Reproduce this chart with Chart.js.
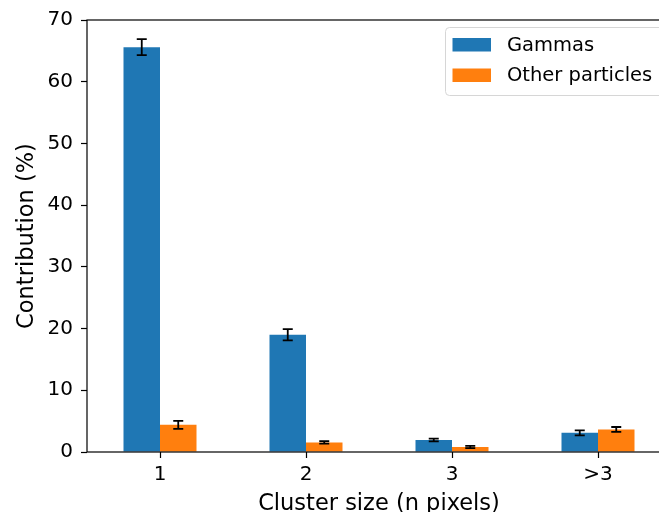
<!DOCTYPE html>
<html>
<head>
<meta charset="utf-8">
<script src="https://cdn.jsdelivr.net/npm/chart.js@4"></script>
<style>
  html, body { margin: 0; padding: 0; overflow: hidden; background: #fff; }
  #clip { position: relative; width: 659px; height: 512px; overflow: hidden; }
  #wrap { position: absolute; left: 0; top: 0; width: 680px; height: 530px; }
</style>
</head>
<body>
<div id="clip"><div id="wrap"><canvas id="clusterChart" width="680" height="530"></canvas></div></div>
<script>
const clusterSizes = ["1", "2", "3", ">3"];
const gammaValues = [65.6, 19.0, 1.95, 3.1];
const gammaErrors = [1.3, 0.9, 0.22, 0.4];
const otherValues = [4.4, 1.55, 0.8, 3.65];
const otherErrors = [0.65, 0.2, 0.18, 0.4];
const yTicks = [0, 10, 20, 30, 40, 50, 60, 70];

const FONT = "'DejaVu Sans', sans-serif";
const blue = "#1f77b4";
const orange = "#ff7f0e";

// error bars drawn on top of each bar, through the y scale
const errorBars = {
    id: "errorBars",
    afterDatasetsDraw(chart) {
        const ctx = chart.ctx;
        const yScale = chart.scales.y;
        ctx.save();
        ctx.strokeStyle = "#000";
        ctx.lineWidth = 1.8;
        chart.data.datasets.forEach((ds, i) => {
            const meta = chart.getDatasetMeta(i);
            meta.data.forEach((bar, j) => {
                const v = ds.data[j], e = ds.errors[j];
                const yTop = yScale.getPixelForValue(v + e);
                const yBot = yScale.getPixelForValue(v - e);
                const cap = 5;
                ctx.beginPath();
                ctx.moveTo(bar.x, yTop); ctx.lineTo(bar.x, yBot);
                ctx.moveTo(bar.x - cap, yTop); ctx.lineTo(bar.x + cap, yTop);
                ctx.moveTo(bar.x - cap, yBot); ctx.lineTo(bar.x + cap, yBot);
                ctx.stroke();
            });
        });
        ctx.restore();
    }
};

// axes frame + matplotlib style legend box
const frameAndLegend = {
    id: "frameAndLegend",
    afterDraw(chart) {
        const ctx = chart.ctx;
        const a = chart.chartArea;
        ctx.save();
        ctx.strokeStyle = "#000";
        ctx.lineWidth = 1.2;
        ctx.strokeRect(a.left, a.top, a.right - a.left, a.bottom - a.top);

        const bx = 445.5, by = 27.5, bw = 240, bh = 68;
        ctx.beginPath();
        ctx.roundRect(bx, by, bw, bh, 4);
        ctx.fillStyle = "rgba(255,255,255,0.8)";
        ctx.fill();
        ctx.strokeStyle = "#d6d6d6";
        ctx.lineWidth = 1;
        ctx.stroke();

        ctx.font = "19.5px " + FONT;
        ctx.textBaseline = "middle";
        chart.data.datasets.forEach((ds, i) => {
            const y = 38 + i * 30.5;
            ctx.fillStyle = ds.backgroundColor;
            ctx.fillRect(452.5, y, 38.5, 13.5);
            ctx.fillStyle = "#000";
            ctx.fillText(ds.label, 507, y + 7.5);
        });
        ctx.restore();
    }
};

new Chart(document.getElementById("clusterChart"), {
    type: "bar",
    data: {
        labels: clusterSizes,
        datasets: [
            { label: "Gammas", data: gammaValues, errors: gammaErrors, backgroundColor: blue },
            { label: "Other particles", data: otherValues, errors: otherErrors, backgroundColor: orange }
        ]
    },
    options: {
        responsive: false,
        animation: false,
        devicePixelRatio: 1,
        layout: { padding: { top: 19, right: 9, left: 0, bottom: 0 } },
        datasets: { bar: { categoryPercentage: 0.5, barPercentage: 1.0 } },
        plugins: { legend: { display: false }, tooltip: { enabled: false } },
        scales: {
            x: {
                offset: true,
                grid: { display: true, offset: false, drawOnChartArea: false, tickLength: 6, tickColor: "#000", tickWidth: 1.2 },
                border: { display: false },
                ticks: { color: "#000", font: { family: FONT, size: 20 }, padding: 5 },
                title: { display: true, text: "Cluster size (n pixels)", color: "#000",
                         font: { family: FONT, size: 22.5 }, padding: { top: 0, bottom: 12 } },
                afterFit(scale) { scale.height = 78; }
            },
            y: {
                min: 0, max: 70,
                afterBuildTicks(scale) { scale.ticks = yTicks.map(v => ({ value: v })); },
                grid: { display: true, drawOnChartArea: false, tickLength: 6, tickColor: "#000", tickWidth: 1.2 },
                border: { display: false },
                ticks: { color: "#000", font: { family: FONT, size: 20 }, padding: 8 },
                title: { display: true, text: "Contribution (%)", color: "#000",
                         font: { family: FONT, size: 22.5 }, padding: { top: 14, bottom: 0 } },
                afterFit(scale) { scale.width = 87; }
            }
        }
    },
    plugins: [errorBars, frameAndLegend]
});
</script>
</body>
</html>
